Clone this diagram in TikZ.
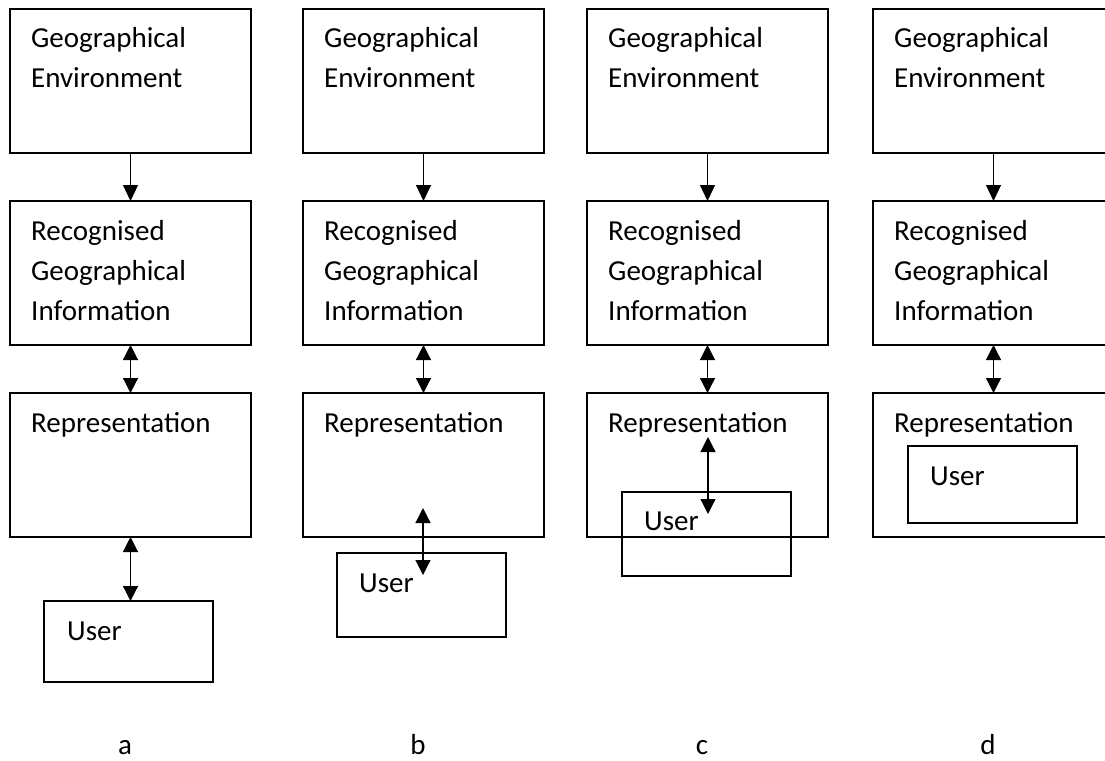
\documentclass[tikz,border=0pt]{standalone}
\usepackage{fontspec}
\setmainfont{Carlito}
\usetikzlibrary{arrows.meta,calc}
\begin{document}
\begin{tikzpicture}[x=1pt,y=-1pt,
  box/.style={draw,line width=1.2pt,inner sep=0pt,outer sep=0pt,anchor=north west,minimum width=241pt,minimum height=144pt},
  ubox/.style={draw,line width=1.2pt,inner sep=0pt,outer sep=0pt,anchor=north west,minimum width=169pt},
  txt/.style={font=\fontsize{29}{40}\selectfont,inner sep=0pt,anchor=base west,align=left,text width=220pt},
  arr/.style={line width=1.2pt,-{Triangle[width=15pt,length=16pt]}},
  darr/.style={line width=1.2pt,{Triangle[width=15pt,length=15pt]}-{Triangle[width=15pt,length=15pt]}},
  lbl/.style={font=\fontsize{29}{35}\selectfont,inner sep=0pt,anchor=base}]
\useasboundingbox (0,0) rectangle (1105,760);
% column a
\node[box] (ga) at (10,9) {};
\node[box] (ra) at (10,201) {};
\node[box] (pa) at (10,393) {};
\node[ubox,minimum height=81pt] (ua) at (44,601) {};
\node[txt] (tga) at ($(ga.north west)+(21,39)$) {Geographical\\Environment};
\node[txt] (tra) at ($(ra.north west)+(21,39)$) {Recognised\\Geographical\\Information};
\node[txt] (tpa) at ($(pa.north west)+(21,39)$) {Representation};
\node[txt] (tua) at ($(ua.north west)+(23,39)$) {User};
\draw[arr] (ga.south) -- (ra.north);
\draw[darr] (ra.south) -- (pa.north);
\draw[darr] (pa.south) -- (pa.south |- ua.north);
% column b
\node[box] (gb) at (303,9) {};
\node[box] (rb) at (303,201) {};
\node[box] (pb) at (303,393) {};
\node[ubox,minimum height=84pt] (ub) at (337,553) {};
\node[txt] (tgb) at ($(gb.north west)+(21,39)$) {Geographical\\Environment};
\node[txt] (trb) at ($(rb.north west)+(21,39)$) {Recognised\\Geographical\\Information};
\node[txt] (tpb) at ($(pb.north west)+(21,39)$) {Representation};
\node[txt] (tub) at ($(ub.north west)+(22,39)$) {User};
\draw[arr] (gb.south) -- (rb.north);
\draw[darr] (rb.south) -- (pb.north);
\coordinate (b1) at (423,508);
\coordinate (b2) at (423,575);
\draw[darr] (b1) -- (b2);
% column c
\node[box] (gc) at (587,9) {};
\node[box] (rc) at (587,201) {};
\node[box] (pc) at (587,393) {};
\node[ubox,minimum height=84pt] (uc) at (622,492) {};
\node[txt] (tgc) at ($(gc.north west)+(21,39)$) {Geographical\\Environment};
\node[txt] (trc) at ($(rc.north west)+(21,39)$) {Recognised\\Geographical\\Information};
\node[txt] (tpc) at ($(pc.north west)+(21,39)$) {Representation};
\node[txt] (tuc) at ($(uc.north west)+(22,38)$) {User};
\draw[arr] (gc.south) -- (rc.north);
\draw[darr] (rc.south) -- (pc.north);
\coordinate (c1) at (708,437);
\coordinate (c2) at (708,514);
\draw[darr] (c1) -- (c2);
% column d
\node[box] (gd) at (873,9) {};
\node[box] (rd) at (873,201) {};
\node[box] (pd) at (873,393) {};
\node[ubox,minimum height=77pt] (ud) at (908,446) {};
\node[txt] (tgd) at ($(gd.north west)+(21,39)$) {Geographical\\Environment};
\node[txt] (trd) at ($(rd.north west)+(21,39)$) {Recognised\\Geographical\\Information};
\node[txt] (tpd) at ($(pd.north west)+(21,39)$) {Representation};
\node[txt] (tud) at ($(ud.north west)+(22,39)$) {User};
\draw[arr] (gd.south) -- (rd.north);
\draw[darr] (rd.south) -- (pd.north);
% labels
\node[lbl] (la) at (125,754) {a};
\node[lbl] (lb) at (418,754) {b};
\node[lbl] (lc) at (702,754) {c};
\node[lbl] (ld) at (988,754) {d};
\end{tikzpicture}
\end{document}
